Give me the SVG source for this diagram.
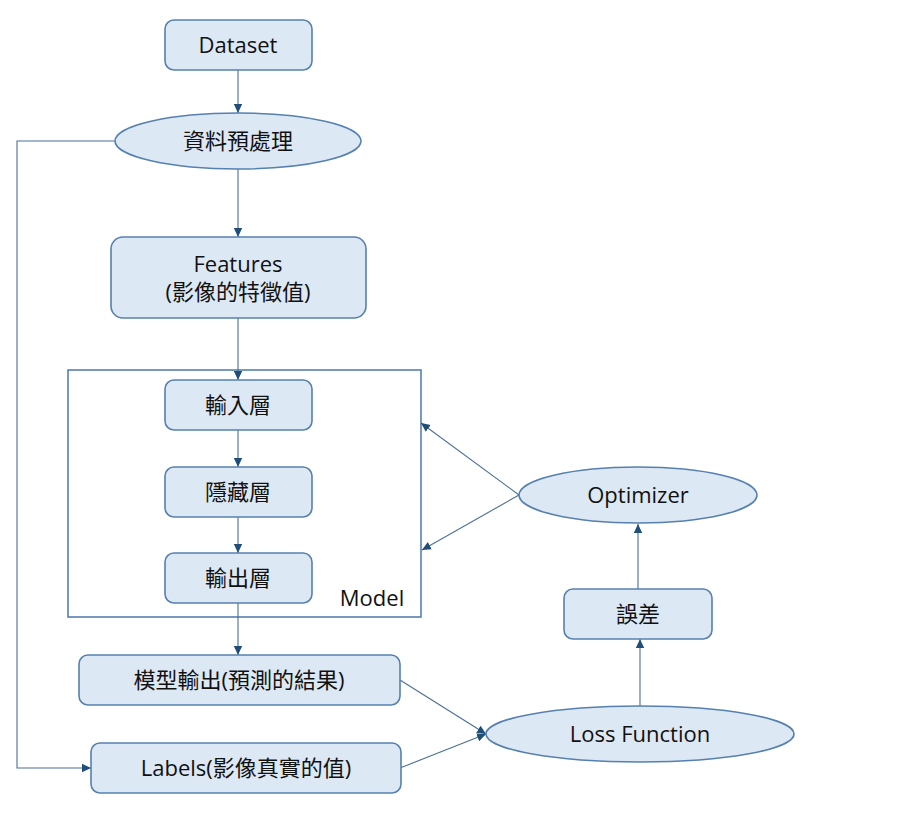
<svg xmlns="http://www.w3.org/2000/svg" width="906" height="833" viewBox="0 0 906 833">
<style>
.n{fill:#dde8f5;stroke:#5580b0;stroke-width:1.6}
.t{font-family:"Open Sans","Noto Sans CJK TC",sans-serif;font-size:22px;fill:#111;text-anchor:middle}
.c{fill:none;stroke:#4a6f98;stroke-width:1.1}
</style>
<defs>
<marker id="a" markerUnits="userSpaceOnUse" markerWidth="10" markerHeight="10" refX="9" refY="5" orient="auto">
<path d="M0,0.8 L9,5 L0,9.2 z" fill="#1f4e79"/>
</marker>
</defs>
<rect width="906" height="833" fill="#fff"/>
<g id="model">
<rect x="68" y="370" width="353" height="247" fill="#fff" stroke="#5580b0" stroke-width="1.6"/>
<text class="t" x="372" y="606">Model</text>
</g>
<g id="connectors">
<path class="c" d="M238,70 V113" marker-end="url(#a)"/>
<path class="c" d="M238,169 V237" marker-end="url(#a)"/>
<path class="c" d="M238,318 V380" marker-end="url(#a)"/>
<path class="c" d="M238,430 V467" marker-end="url(#a)"/>
<path class="c" d="M238,517 V553" marker-end="url(#a)"/>
<path class="c" d="M238,603 V655" marker-end="url(#a)"/>
<path class="c" d="M115,141 H17 V768 H91" marker-end="url(#a)"/>
<path class="c" d="M400,680 L486,734" marker-end="url(#a)"/>
<path class="c" d="M400,768 L486,734" marker-end="url(#a)"/>
<path class="c" d="M640,706 V639" marker-end="url(#a)"/>
<path class="c" d="M638,589 V524" marker-end="url(#a)"/>
<path class="c" d="M519,495 L421,423" marker-end="url(#a)"/>
<path class="c" d="M519,495 L422,550" marker-end="url(#a)"/>
</g>
<g id="dataset">
<rect class="n" x="165" y="20" width="147" height="50" rx="9"/>
<text class="t" x="238" y="53">Dataset</text>
</g>
<g id="preprocess">
<ellipse class="n" cx="238" cy="141" rx="123" ry="28"/>
<text class="t" x="238" y="149">資料預處理</text>
</g>
<g id="features">
<rect class="n" x="111" y="237" width="255" height="81" rx="12"/>
<text class="t" x="238" y="272">Features</text>
<text class="t" x="238" y="300">(影像的特徵值)</text>
</g>
<g id="input">
<rect class="n" x="165" y="380" width="147" height="50" rx="9"/>
<text class="t" x="238" y="413">輸入層</text>
</g>
<g id="hidden">
<rect class="n" x="165" y="467" width="147" height="50" rx="9"/>
<text class="t" x="238" y="500">隱藏層</text>
</g>
<g id="output">
<rect class="n" x="165" y="553" width="147" height="50" rx="9"/>
<text class="t" x="238" y="586">輸出層</text>
</g>
<g id="prediction">
<rect class="n" x="79" y="655" width="321" height="50" rx="9"/>
<text class="t" x="239" y="688">模型輸出(預測的結果)</text>
</g>
<g id="labels">
<rect class="n" x="91" y="743" width="310" height="50" rx="9"/>
<text class="t" x="246" y="776">Labels(影像真實的值)</text>
</g>
<g id="loss">
<ellipse class="n" cx="640" cy="734" rx="154" ry="28"/>
<text class="t" x="640" y="742">Loss Function</text>
</g>
<g id="error">
<rect class="n" x="564" y="589" width="148" height="50" rx="9"/>
<text class="t" x="638" y="622">誤差</text>
</g>
<g id="optimizer">
<ellipse class="n" cx="638" cy="495" rx="119" ry="28"/>
<text class="t" x="638" y="503">Optimizer</text>
</g>
</svg>
